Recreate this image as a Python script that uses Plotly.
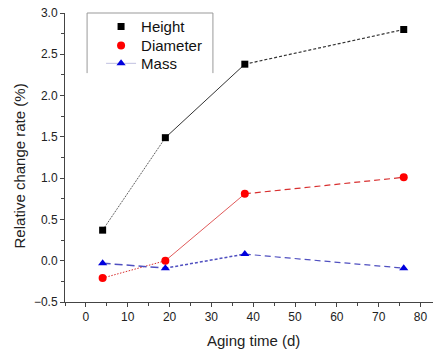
import plotly.graph_objects as go

aging_days = [4, 19, 38, 76]
height = [0.37, 1.49, 2.38, 2.80]
diameter = [-0.21, 0.00, 0.81, 1.01]
mass = [-0.03, -0.09, 0.08, -0.09]

x_ticks = [0, 10, 20, 30, 40, 50, 60, 70, 80]
y_ticks = [-0.5, 0.0, 0.5, 1.0, 1.5, 2.0, 2.5, 3.0]

font = "Liberation Sans, Arial, sans-serif"

series = [
    dict(name="Height", y=height, color="black", line_color="#333333",
         symbol="square", size=7,
         segs=[("1px,1px", 1), ("solid", 1), ("3px,2px", 1.2)], legend_line=False),
    dict(name="Diameter", y=diameter, color="red", line_color="#d83030",
         symbol="circle", size=8,
         segs=[("1.5px,1.5px", 1), ("solid", 0.8), ("6px,4px", 1.2)], legend_line=False),
    dict(name="Mass", y=mass, color="#0000dd", line_color="#5050c0",
         symbol="triangle-up", size=8,
         segs=[("8px,4px", 1.5), ("3px,2px", 1.5), ("6px,4px", 1.2)], legend_line=True),
]

fig = go.Figure()
for s in series:
    for i, (dash, w) in enumerate(s["segs"]):
        fig.add_trace(go.Scatter(x=aging_days[i:i + 2], y=s["y"][i:i + 2], mode="lines",
                                 line=dict(color=s["line_color"], width=w, dash=dash),
                                 showlegend=False, hoverinfo="skip"))
for k, s in enumerate(series):
    fig.add_trace(go.Scatter(x=aging_days, y=s["y"], mode="markers", name=s["name"],
                             marker=dict(symbol=s["symbol"], size=s["size"], color=s["color"]),
                             showlegend=False))
    # legend entry, each in its own legend box for exact row placement
    fig.add_trace(go.Scatter(x=[None], y=[None], name=s["name"],
                             mode="lines+markers" if s["legend_line"] else "markers",
                             line=dict(color="#c0c0e0", width=1),
                             marker=dict(symbol=s["symbol"], size=s["size"], color=s["color"]),
                             legend="legend" if k == 0 else f"legend{k + 1}"))

axis_common = dict(showgrid=False, zeroline=False, showline=True, linecolor="#444", linewidth=1,
                   ticks="outside", ticklen=4, tickcolor="#444", automargin=False,
                   ticklabeloverflow="allow",
                   tickfont=dict(family=font, size=12, color="#222"),
                   minor=dict(ticks="outside", ticklen=3, tickcolor="#444"))

fig.update_xaxes(range=[-5, 83], tickvals=x_ticks, minor_dtick=5, **axis_common)
fig.update_yaxes(range=[-0.5, 3.0], tickvals=y_ticks, tickformat=".1f", minor_dtick=0.25,
                 **axis_common)

fig.add_annotation(text="Aging time (d)", xref="paper", yref="paper", x=0.512, y=-0.1315,
                   xanchor="center", yanchor="middle", showarrow=False,
                   font=dict(family=font, size=15, color="#222"))
fig.add_annotation(text="Relative change rate (%)", xref="paper", yref="paper", x=-0.125, y=0.469,
                   xanchor="center", yanchor="middle", showarrow=False, textangle=-90,
                   font=dict(family=font, size=15, color="#222"))

# legend frame (top, left, right)
for x0, y0, x1, y1 in [(0.06, 1.0, 0.402, 1.0), (0.06, 1.0, 0.06, 0.792), (0.402, 1.0, 0.402, 0.792)]:
    fig.add_shape(type="line", xref="paper", yref="paper", x0=x0, y0=y0, x1=x1, y1=y1,
                  line=dict(color="#999", width=1))

legend_common = dict(x=0.098, xanchor="left", yanchor="middle", bgcolor="rgba(0,0,0,0)",
                     font=dict(family=font, size=15, color="#111"), itemwidth=30)
fig.update_layout(
    width=435, height=349,
    margin=dict(l=65, r=2, t=13, b=47),
    plot_bgcolor="white", paper_bgcolor="white",
    showlegend=True,
    legend=dict(y=0.952, **legend_common),
    legend2=dict(y=0.887, **legend_common),
    legend3=dict(y=0.825, **legend_common),
)

fig.write_html("out.html", config={"displayModeBar": False},
               post_script="document.body.style.margin='0px';")
